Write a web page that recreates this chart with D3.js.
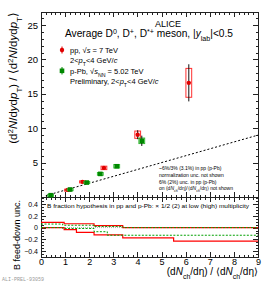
<!DOCTYPE html>
<html><head><meta charset="utf-8">
<script src="https://cdn.jsdelivr.net/npm/d3@7"></script>
<style>
body{margin:0;background:#fff}
svg{display:block}
text{font-family:"Liberation Sans",Arial,Helvetica,sans-serif;fill:#000}
</style>
</head><body>
<svg id="c" width="273" height="283"></svg>
<script>
// ---- data ----
const ppX    = [1.10, 1.72, 2.61, 4.01, 6.13];
const ppY    = [1.04, 2.20, 4.23, 9.06, 16.6];
const ppStat = [0.06, 0.10, 0.15, 0.65, 2.70];
const ppSys  = [0.10, 0.15, 0.25, 0.53, 2.10];

const pPbX    = [0.40, 1.21, 1.90, 2.46, 3.14, 4.18];
const pPbY    = [0.26, 1.09, 2.10, 3.36, 4.47, 8.17];
const pPbStat = [0.05, 0.08, 0.10, 0.15, 0.20, 0.75];
const pPbSys  = [0.12, 0.12, 0.15, 0.20, 0.25, 0.40];

const refLine = [[0.2, 0.2], [9, 9]];

// B feed-down uncertainties (step histograms)
const ppEdges   = [0, 0.96, 1.47, 2.20, 3.39, 5.50, 9];
const ppUp      = [0.090, 0.065, 0.065, 0.035, 0.0, 0.0];
const ppLow     = [0.0, -0.035, -0.080, -0.125, -0.175, -0.230];
const pPbEdges  = [0, 0.90, 2.20, 2.75, 3.40, 9];
const pPbUp     = [0.060, 0.040, 0.020, 0.020, 0.0];
const pPbLow    = [0.0, -0.015, -0.070, -0.130, -0.130];

const xTicks    = [0,1,2,3,4,5,6,7,8,9];
const yTopTicks = [5,10,15,20,25];
const yBotTicks = [-0.4,-0.2,0,0.2,0.4];

// ---- layout ----
const svg = d3.select("#c");
const L = 41, R = 258;
const x = d3.scaleLinear().domain([0, 9]).range([L, R]);
const yT = d3.scaleLinear().domain([0, 26.9]).range([197, 12]);
const yB = d3.scaleLinear().domain([-0.5, 0.52]).range([257, 197]);

const xMinor = d3.range(0, 9.001, 0.2).map(v => +v.toFixed(2));
const yTopMinor = d3.range(0, 26.5, 1);
const yBotMinor = d3.range(-0.5, 0.52, 0.05).map(v => +v.toFixed(2));

function styleAxis(g){
  g.select(".domain").remove();
  g.selectAll(".tick line").attr("stroke", "#222").attr("shape-rendering","crispEdges");
}
function panel(ys, yMajor, yMinor, showX, yFmt, yFont){
  const [y0, y1] = ys.range();
  svg.append("g").attr("transform", `translate(0,${y0})`)
    .call(d3.axisBottom(x).tickValues(xMinor).tickSize(-2.5).tickFormat("")).call(styleAxis);
  const gb = svg.append("g").attr("transform", `translate(0,${y0})`)
    .call(d3.axisBottom(x).tickValues(xTicks).tickSize(-5).tickPadding(2)
      .tickFormat(showX ? d3.format("d") : "")).call(styleAxis);
  gb.selectAll("text").attr("font-size", 9).attr("font-family","Liberation Sans, Arial, sans-serif");
  svg.append("g").attr("transform", `translate(0,${y1})`)
    .call(d3.axisTop(x).tickValues(xMinor).tickSize(-2.5).tickFormat("")).call(styleAxis);
  svg.append("g").attr("transform", `translate(0,${y1})`)
    .call(d3.axisTop(x).tickValues(xTicks).tickSize(-5).tickFormat("")).call(styleAxis);
  svg.append("g").attr("transform", `translate(${L},0)`)
    .call(d3.axisLeft(ys).tickValues(yMinor).tickSize(-2.5).tickFormat("")).call(styleAxis);
  const gl = svg.append("g").attr("transform", `translate(${L},0)`)
    .call(d3.axisLeft(ys).tickValues(yMajor).tickSize(-5).tickPadding(3).tickFormat(yFmt)).call(styleAxis);
  gl.selectAll("text").attr("font-size", yFont).attr("font-family","Liberation Sans, Arial, sans-serif");
  svg.append("g").attr("transform", `translate(${R},0)`)
    .call(d3.axisRight(ys).tickValues(yMinor).tickSize(-2.5).tickFormat("")).call(styleAxis);
  svg.append("g").attr("transform", `translate(${R},0)`)
    .call(d3.axisRight(ys).tickValues(yMajor).tickSize(-5).tickFormat("")).call(styleAxis);
  svg.append("rect").attr("x", L).attr("y", y1).attr("width", R - L).attr("height", y0 - y1)
    .attr("fill","none").attr("stroke","#222").attr("stroke-width",1).attr("shape-rendering","crispEdges");
}
panel(yT, yTopTicks, yTopMinor, false, d3.format("d"), 9.5);
panel(yB, yBotTicks, yBotMinor, true, v => v === 0 ? "0" : d3.format(".1f")(v), 7);

function rich(parent, px, py, size, parts, opts = {}){
  const t = parent.append("text").attr("x", px).attr("y", py).attr("font-size", size);
  if (opts.anchor) t.attr("text-anchor", opts.anchor);
  if (opts.transform) t.attr("transform", opts.transform);
  if (opts.fill) t.style("fill", opts.fill);
  parts.forEach(p => {
    const [s, m] = Array.isArray(p) ? p : [p, ""];
    const ts = t.append("tspan").text(s);
    if (m.includes("i")) ts.attr("font-style", "italic");
    if (m.includes("^")) ts.attr("baseline-shift", "super").attr("font-size", size * 0.7);
    if (m.includes("_")) ts.attr("baseline-shift", "sub").attr("font-size", size * 0.7);
  });
  if (opts.len) t.attr("textLength", opts.len).attr("lengthAdjust", "spacingAndGlyphs");
  return t;
}

// ---- top panel marks ----
const topG = svg.append("g");
topG.append("path")
  .attr("d", d3.line().x(d => x(d[0])).y(d => yT(d[1]))(refLine))
  .attr("fill","none").attr("stroke","#000").attr("stroke-width",1).attr("stroke-dasharray","2,2");

const bw = 0.12;
function series(X, Y, S, Sy, col, boxCol, shape){
  const g = topG.append("g");
  X.forEach((xv, i) => {
    g.append("rect").attr("x", x(xv - bw)).attr("y", yT(Y[i] + Sy[i]))
      .attr("width", x(xv + bw) - x(xv - bw)).attr("height", Math.max(2, yT(Y[i] - Sy[i]) - yT(Y[i] + Sy[i])))
      .attr("fill","none").attr("stroke", boxCol).attr("stroke-width", 1);
    g.append("line").attr("x1", x(xv)).attr("x2", x(xv))
      .attr("y1", yT(Y[i] + S[i])).attr("y2", yT(Y[i] - S[i]))
      .attr("stroke", "#111").attr("stroke-width", 1);
    if (shape === "circle")
      g.append("circle").attr("cx", x(xv)).attr("cy", yT(Y[i])).attr("r", 2.2).attr("fill", col);
    else
      g.append("rect").attr("x", x(xv) - 2.3).attr("y", yT(Y[i]) - 2.3).attr("width", 4.6).attr("height", 4.6).attr("fill", col);
  });
}
series(ppX, ppY, ppStat, ppSys, "#e00000", "#ff3030", "circle");
series(pPbX, pPbY, pPbStat, pPbSys, "#008800", "#33bb33", "square");

// ---- texts top panel ----
rich(svg, 168, 27, 9, ["ALICE"], {anchor: "middle"});
rich(svg, 65, 37, 10, ["Average D", ["0","^"], ", D", ["+","^"], ", D", ["*+","^"], " meson, |", ["y","i"], ["lab","_"], "|<0.5"], {len: 168});

svg.append("line").attr("x1",62).attr("x2",62).attr("y1",46.5).attr("y2",53.5).attr("stroke","#e00000");
svg.append("circle").attr("cx",62).attr("cy",50).attr("r",2.2).attr("fill","#e00000");
svg.append("line").attr("x1",62).attr("x2",62).attr("y1",67).attr("y2",74.5).attr("stroke","#008800");
svg.append("rect").attr("x",59.7).attr("y",68.5).attr("width",4.6).attr("height",4.6).attr("fill","#008800");
rich(svg, 70, 53, 7.5, ["pp, \u221A", ["s","i"], " = 7 TeV"]);
rich(svg, 70, 63, 7.5, ["2<", ["p","i"], ["T","_"], "<4 GeV/", ["c","i"]]);
rich(svg, 70, 73.5, 7.5, ["p-Pb, \u221A", ["s","i"], ["NN","_"], " = 5.02 TeV"]);
rich(svg, 70, 84, 7.5, ["Preliminary, 2<", ["p","i"], ["T","_"], "<4 GeV/", ["c","i"]]);

rich(svg, 159, 170, 5, ["~6%/3% (3.1%) in pp (p-Pb)"]);
rich(svg, 159, 176.5, 5, ["normalization unc. not shown"]);
rich(svg, 159, 183.5, 5, ["6% (2%) unc. in pp (p-Pb)"]);
rich(svg, 159, 190, 5, ["on (d", ["N","i"], ["ch","_"], "/d\u03B7)/\u27E8d", ["N","i"], ["ch","_"], "/d\u03B7\u27E9 not shown"]);

// ---- bottom panel marks ----
function stepPath(edges, vals){
  const pts = [];
  vals.forEach((v, i) => { pts.push([edges[i], v]); pts.push([edges[i+1], v]); });
  return d3.line().x(d => x(d[0])).y(d => yB(d[1]))(pts);
}
svg.append("line").attr("x1", x(0)).attr("x2", x(9)).attr("y1", yB(0)).attr("y2", yB(0))
  .attr("stroke", "#999").attr("stroke-width", 0.8).attr("stroke-dasharray", "1,1");
[ppUp, ppLow].forEach(v => svg.append("path").attr("d", stepPath(ppEdges, v))
  .attr("fill","none").attr("stroke","#ff0000").attr("stroke-width",1.2));
[pPbUp, pPbLow].forEach(v => svg.append("path").attr("d", stepPath(pPbEdges, v))
  .attr("fill","none").attr("stroke","#00a000").attr("stroke-width",1).attr("stroke-dasharray","2,1.5"));

rich(svg, 47, 208, 5.6, ["B fraction hypothesis in pp and p-Pb: \u00D7 1/2 (2) at low (high) multiplicity"], {len: 202});

// ---- axis titles ----
rich(svg, 0, 0, 11.5, ["(d", ["2","^"], ["N","i"], "/d", ["y","i"], "d", ["p","i"], ["T","_"], ") / \u27E8d", ["2","^"], ["N","i"], "/d", ["y","i"], "d", ["p","i"], ["T","_"], "\u27E9"],
  {anchor: "end", transform: "translate(17,12) rotate(-90)"});
rich(svg, 0, 0, 9, ["B feed-down unc."], {anchor: "end", transform: "translate(20,200) rotate(-90)"});
rich(svg, 258, 275, 10, ["(d", ["N","i"], ["ch","_"], "/d\u03B7) / \u27E8d", ["N","i"], ["ch","_"], "/d\u03B7\u27E9"], {anchor: "end"});
rich(svg, 2, 281, 5, ["ALI-PREL-93059"], {fill: "#999"}).style("font-family", "'Liberation Mono', 'DejaVu Sans Mono', monospace");
</script>
</body></html>
